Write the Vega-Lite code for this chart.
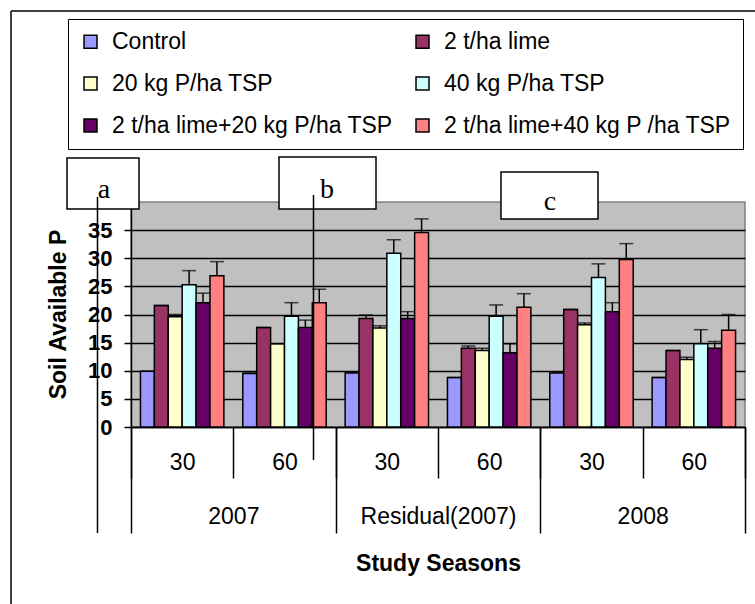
{
  "$schema": "https://vega.github.io/schema/vega-lite/v6.json",
  "autosize": {"type": "none"},
  "padding": {"left": 131, "top": 202, "right": 10, "bottom": 177},
  "width": 614,
  "height": 225,
  "background": "white",
  "config": {
    "font": "Liberation Sans",
    "view": {"fill": "#C0C0C0", "stroke": "#808080", "strokeWidth": 1.5}
  },
  "datasets": {
    "bars": [
      {"season": "2007", "cell": "2007|30", "treatment": "Control", "value": 9.9, "hi": 9.9},
      {"season": "2007", "cell": "2007|30", "treatment": "2 t/ha lime", "value": 21.6, "hi": 21.6},
      {"season": "2007", "cell": "2007|30", "treatment": "20 kg P/ha TSP", "value": 19.6, "hi": 20.0},
      {"season": "2007", "cell": "2007|30", "treatment": "40 kg P/ha TSP", "value": 25.3, "hi": 27.8},
      {"season": "2007", "cell": "2007|30", "treatment": "2 t/ha lime+20 kg P/ha TSP", "value": 22.1, "hi": 23.8},
      {"season": "2007", "cell": "2007|30", "treatment": "2 t/ha lime+40 kg P /ha TSP", "value": 26.9, "hi": 29.4},
      {"season": "2007", "cell": "2007|60", "treatment": "Control", "value": 9.5, "hi": 9.6},
      {"season": "2007", "cell": "2007|60", "treatment": "2 t/ha lime", "value": 17.7, "hi": 17.7},
      {"season": "2007", "cell": "2007|60", "treatment": "20 kg P/ha TSP", "value": 14.8, "hi": 14.8},
      {"season": "2007", "cell": "2007|60", "treatment": "40 kg P/ha TSP", "value": 19.7, "hi": 22.1},
      {"season": "2007", "cell": "2007|60", "treatment": "2 t/ha lime+20 kg P/ha TSP", "value": 17.7, "hi": 19.0},
      {"season": "2007", "cell": "2007|60", "treatment": "2 t/ha lime+40 kg P /ha TSP", "value": 22.1, "hi": 24.5},
      {"season": "Residual(2007)", "cell": "Residual(2007)|30", "treatment": "Control", "value": 9.6, "hi": 9.8},
      {"season": "Residual(2007)", "cell": "Residual(2007)|30", "treatment": "2 t/ha lime", "value": 19.3, "hi": 19.9},
      {"season": "Residual(2007)", "cell": "Residual(2007)|30", "treatment": "20 kg P/ha TSP", "value": 17.6, "hi": 18.0},
      {"season": "Residual(2007)", "cell": "Residual(2007)|30", "treatment": "40 kg P/ha TSP", "value": 30.9, "hi": 33.3},
      {"season": "Residual(2007)", "cell": "Residual(2007)|30", "treatment": "2 t/ha lime+20 kg P/ha TSP", "value": 19.3, "hi": 20.5},
      {"season": "Residual(2007)", "cell": "Residual(2007)|30", "treatment": "2 t/ha lime+40 kg P /ha TSP", "value": 34.6, "hi": 37.0},
      {"season": "Residual(2007)", "cell": "Residual(2007)|60", "treatment": "Control", "value": 8.8, "hi": 8.8},
      {"season": "Residual(2007)", "cell": "Residual(2007)|60", "treatment": "2 t/ha lime", "value": 14.0, "hi": 14.4},
      {"season": "Residual(2007)", "cell": "Residual(2007)|60", "treatment": "20 kg P/ha TSP", "value": 13.6, "hi": 14.0},
      {"season": "Residual(2007)", "cell": "Residual(2007)|60", "treatment": "40 kg P/ha TSP", "value": 19.7, "hi": 21.7},
      {"season": "Residual(2007)", "cell": "Residual(2007)|60", "treatment": "2 t/ha lime+20 kg P/ha TSP", "value": 13.2, "hi": 14.8},
      {"season": "Residual(2007)", "cell": "Residual(2007)|60", "treatment": "2 t/ha lime+40 kg P /ha TSP", "value": 21.3, "hi": 23.7},
      {"season": "2008", "cell": "2008|30", "treatment": "Control", "value": 9.6, "hi": 9.8},
      {"season": "2008", "cell": "2008|30", "treatment": "2 t/ha lime", "value": 20.9, "hi": 20.9},
      {"season": "2008", "cell": "2008|30", "treatment": "20 kg P/ha TSP", "value": 18.2, "hi": 18.5},
      {"season": "2008", "cell": "2008|30", "treatment": "40 kg P/ha TSP", "value": 26.6, "hi": 29.0},
      {"season": "2008", "cell": "2008|30", "treatment": "2 t/ha lime+20 kg P/ha TSP", "value": 20.5, "hi": 22.1},
      {"season": "2008", "cell": "2008|30", "treatment": "2 t/ha lime+40 kg P /ha TSP", "value": 29.8, "hi": 32.6},
      {"season": "2008", "cell": "2008|60", "treatment": "Control", "value": 8.8, "hi": 8.8},
      {"season": "2008", "cell": "2008|60", "treatment": "2 t/ha lime", "value": 13.6, "hi": 13.6},
      {"season": "2008", "cell": "2008|60", "treatment": "20 kg P/ha TSP", "value": 12.0, "hi": 12.4},
      {"season": "2008", "cell": "2008|60", "treatment": "40 kg P/ha TSP", "value": 14.8, "hi": 17.3},
      {"season": "2008", "cell": "2008|60", "treatment": "2 t/ha lime+20 kg P/ha TSP", "value": 14.0, "hi": 15.2},
      {"season": "2008", "cell": "2008|60", "treatment": "2 t/ha lime+40 kg P /ha TSP", "value": 17.2, "hi": 20.0}
    ]
  },
  "data": {"name": "bars"},
  "resolve": {"scale": {"x": "independent", "y": "independent"}},
  "layer": [
    {
      "encoding": {
        "x": {
          "field": "cell", "type": "nominal",
          "sort": ["2007|30", "2007|60", "Residual(2007)|30", "Residual(2007)|60", "2008|30", "2008|60"],
          "scale": {"paddingInner": 0, "paddingOuter": 0},
          "axis": {
            "title": null, "orient": "bottom",
            "labelExpr": "split(datum.value, '|')[1]",
            "labelAngle": 0, "labelFontSize": 23, "labelColor": "black", "labelBaseline": "middle",
            "labelPadding": -16, "tickBand": "extent", "tickSize": 51, "tickColor": "black", "tickWidth": 1.5,
            "domainColor": "black", "domainWidth": 1.5
          }
        },
        "xOffset": {
          "field": "treatment", "type": "nominal",
          "sort": ["Control", "2 t/ha lime", "20 kg P/ha TSP", "40 kg P/ha TSP", "2 t/ha lime+20 kg P/ha TSP", "2 t/ha lime+40 kg P /ha TSP"],
          "scale": {"paddingInner": 0, "paddingOuter": 0.68}
        },
        "y": {
          "field": "value", "type": "quantitative",
          "scale": {"domain": [0, 40], "nice": false},
          "axis": {
            "title": "Soil Available P", "values": [0, 5, 10, 15, 20, 25, 30, 35],
            "labelFontSize": 22, "labelFontWeight": "bold", "labelColor": "black", "labelPadding": 12,
            "tickSize": 7, "tickColor": "black", "tickWidth": 1.5,
            "domainColor": "black", "domainWidth": 1.5,
            "grid": true, "gridColor": "black", "gridWidth": 1.5,
            "titleFontSize": 23, "titleFontWeight": "bold", "titleColor": "black",
            "titleX": -73, "titleY": 112, "titleBaseline": "middle", "titleAngle": -90
          }
        }
      },
      "layer": [
        {
          "mark": {"type": "bar", "stroke": "black", "strokeWidth": 1.5},
          "encoding": {
            "color": {
              "field": "treatment", "type": "nominal",
              "scale": {
                "domain": ["Control", "2 t/ha lime", "20 kg P/ha TSP", "40 kg P/ha TSP", "2 t/ha lime+20 kg P/ha TSP", "2 t/ha lime+40 kg P /ha TSP"],
                "range": ["#9999FF", "#993366", "#FFFFCC", "#CCFFFF", "#660066", "#FF8080"]
              },
              "legend": {
                "orient": "none", "legendX": -63, "legendY": -183, "columns": 2, "direction": "horizontal", "title": null,
                "symbolType": "square", "symbolSize": 169, "symbolStrokeColor": "black", "symbolStrokeWidth": 1.5,
                "labelFontSize": 23, "labelColor": "black", "labelOffset": 10, "labelLimit": 400,
                "rowPadding": 18, "columnPadding": 18, "padding": 11,
                "strokeColor": "black", "fillColor": "white"
              }
            }
          }
        },
        {
          "mark": {"type": "rule", "color": "black", "strokeWidth": 1.5},
          "encoding": {"y2": {"field": "hi"}}
        },
        {
          "mark": {"type": "tick", "color": "black", "size": 14, "thickness": 1.5},
          "encoding": {"y": {"field": "hi", "type": "quantitative"}}
        }
      ]
    },
    {
      "mark": {"type": "bar", "opacity": 0},
      "encoding": {
        "x": {
          "field": "season", "type": "nominal",
          "sort": ["2007", "Residual(2007)", "2008"],
          "scale": {"paddingInner": 0, "paddingOuter": 0},
          "axis": {
            "orient": "bottom", "title": "Study Seasons", "domain": false,
            "labelAngle": 0, "labelFontSize": 23, "labelColor": "black", "labelBaseline": "middle",
            "labelPadding": -17, "tickBand": "extent", "tickSize": 106, "tickColor": "black", "tickWidth": 1.5,
            "titleFontSize": 23, "titleFontWeight": "bold", "titleColor": "black",
            "titleY": 136, "titleBaseline": "middle"
          }
        }
      }
    },
    {
      "data": {"values": [
        {"name": "a", "x1": -0.6254, "x2": 0.0782, "y1": 47.82, "y2": 38.76},
        {"name": "b", "x1": 1.4463, "x2": 2.3941, "y1": 48.0, "y2": 38.76},
        {"name": "c", "x1": 3.6156, "x2": 4.5635, "y1": 45.33, "y2": 36.98}
      ]},
      "mark": {"type": "rect", "stroke": "black", "strokeWidth": 1.5, "fill": "white"},
      "encoding": {
        "x": {"field": "x1", "type": "quantitative", "scale": {"domain": [0, 6], "nice": false, "zero": false}, "axis": null},
        "x2": {"field": "x2"},
        "y": {"field": "y1", "type": "quantitative", "scale": {"domain": [0, 40], "nice": false, "zero": false}, "axis": null},
        "y2": {"field": "y2"}
      }
    },
    {
      "data": {"values": [
        {"x": -0.3274, "x2": -0.3274, "y1": 40.89, "y2": -18.84},
        {"x": 1.7834, "x2": 1.7834, "y1": 41.24, "y2": -5.87},
        {"x": -1.1726, "x2": -1.1726, "y1": 73.96, "y2": -40},
        {"x": -1.1726, "x2": 6.2, "y1": 73.96, "y2": 73.96}
      ]},
      "mark": {"type": "rule", "color": "black", "strokeWidth": 1.5},
      "encoding": {
        "x": {"field": "x", "type": "quantitative", "scale": {"domain": [0, 6], "nice": false, "zero": false}, "axis": null},
        "x2": {"field": "x2"},
        "y": {"field": "y1", "type": "quantitative", "scale": {"domain": [0, 40], "nice": false, "zero": false}, "axis": null},
        "y2": {"field": "y2"}
      }
    },
    {
      "data": {"values": [
        {"x": -0.2638, "y": 40.66, "label": "a"},
        {"x": 1.9153, "y": 40.66, "label": "b"},
        {"x": 4.0945, "y": 38.58, "label": "c"}
      ]},
      "mark": {"type": "text", "font": "Liberation Serif", "fontSize": 28, "color": "black", "baseline": "alphabetic", "align": "center"},
      "encoding": {
        "x": {"field": "x", "type": "quantitative", "scale": {"domain": [0, 6], "nice": false, "zero": false}, "axis": null},
        "y": {"field": "y", "type": "quantitative", "scale": {"domain": [0, 40], "nice": false, "zero": false}, "axis": null},
        "text": {"field": "label"}
      }
    }
  ]
}
